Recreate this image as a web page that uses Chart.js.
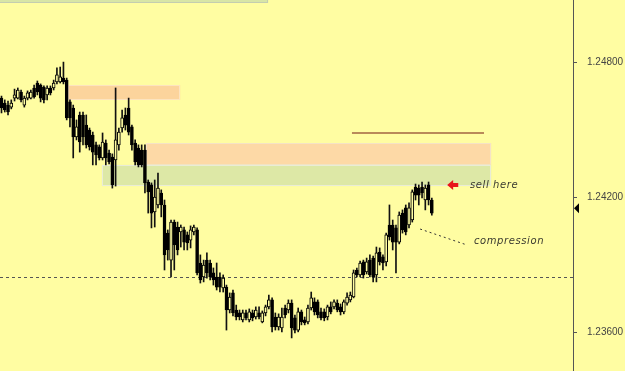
<!DOCTYPE html>
<html><head><meta charset="utf-8">
<script src="https://cdn.jsdelivr.net/npm/chart.js@4/dist/chart.umd.min.js"></script>
<style>html,body{margin:0;padding:0;background:#fffda2;overflow:hidden}#wrap{width:625px;height:371px;position:relative}</style>
</head><body><div id="wrap"><canvas id="c"></canvas></div>
<script>
const opens=[
1.24640,1.24618,1.24609,1.24600,1.24640,1.24640,1.24667,1.24609,1.24640,1.24640,
1.24685,1.24707,1.24698,1.24689,1.24654,1.24685,1.24685,1.24712,1.24712,1.24729,
1.24720,1.24623,1.24596,1.24467,1.24565,1.24565,1.24520,1.24498,1.24476,1.24432,
1.24423,1.24374,1.24440,1.24396,1.24378,1.24365,1.24432,1.24507,1.24565,1.24596,
1.24512,1.24440,1.24418,1.24409,1.24409,
1.24267,1.24254,1.24134,1.24165,1.24218,1.24165,1.24040,1.23920,1.24089,1.24067,
1.24045,1.24054,1.24032,1.24009,1.24045,1.24054,1.23907,1.23845,1.23920,1.23907,
1.23863,1.23845,1.23845,1.23796,1.23800,1.23698,1.23774,1.23698,1.23685,1.23654,
1.23685,1.23654,1.23685,1.23667,1.23685,1.23645,1.23685,1.23712,1.23743,1.23667,
1.23623,1.23618,1.23707,1.23698,1.23729,1.23663,1.23609,1.23690,1.23654,1.23645,
1.23707,1.23734,1.23734,1.23690,1.23690,1.23667,1.23712,1.23712,1.23729,1.23712,
1.23690,1.23729,1.23743,1.23756,1.23876,1.23854,1.23912,1.23867,1.23920,1.23929,
1.23854,1.23956,1.23934,1.23912,1.24076,1.24076,1.24063,1.24000,1.24129,1.24152,
1.24076,1.24098,1.24245,1.24240,1.24245,1.24187,1.24254,1.24187];
const highs=[
1.24649,1.24632,1.24627,1.24632,1.24680,1.24685,1.24676,1.24649,1.24672,1.24676,
1.24698,1.24716,1.24703,1.24694,1.24694,1.24694,1.24720,1.24774,1.24778,1.24800,
1.24729,1.24632,1.24609,1.24543,1.24578,1.24578,1.24565,1.24507,1.24489,1.24445,
1.24432,1.24485,1.24454,1.24409,1.24392,1.24685,1.24507,1.24587,1.24596,1.24640,
1.24520,1.24454,1.24432,1.24432,1.24432,
1.24276,1.24263,1.24276,1.24307,1.24232,1.24187,1.24054,1.24098,1.24098,1.24089,
1.24076,1.24067,1.24045,1.24072,1.24076,1.24063,1.23943,1.23920,1.23952,1.23920,
1.23885,1.23907,1.23863,1.23854,1.23809,1.23774,1.23787,1.23720,1.23698,1.23698,
1.23698,1.23703,1.23698,1.23712,1.23712,1.23694,1.23720,1.23765,1.23752,1.23685,
1.23681,1.23707,1.23720,1.23743,1.23743,1.23676,1.23707,1.23698,1.23667,1.23720,
1.23778,1.23752,1.23743,1.23707,1.23703,1.23720,1.23734,1.23743,1.23743,1.23725,
1.23743,1.23774,1.23778,1.23876,1.23885,1.23916,1.23920,1.23929,1.23943,1.23938,
1.23978,1.23974,1.23943,1.24040,1.24165,1.24098,1.24076,1.24134,1.24143,1.24165,
1.24174,1.24232,1.24258,1.24254,1.24267,1.24254,1.24267,1.24196];
const lows=[
1.24574,1.24578,1.24565,1.24592,1.24627,1.24636,1.24623,1.24600,1.24632,1.24636,
1.24640,1.24654,1.24623,1.24618,1.24632,1.24654,1.24676,1.24703,1.24707,1.24703,
1.24543,1.24512,1.24374,1.24454,1.24400,1.24432,1.24418,1.24409,1.24343,1.24343,
1.24365,1.24365,1.24343,1.24347,1.24240,1.24249,1.24409,1.24489,1.24498,1.24476,
1.24409,1.24343,1.24334,1.24334,1.24218,
1.24129,1.24063,1.24067,1.24152,1.24112,1.23876,1.23920,1.23845,1.23876,1.23943,
1.23978,1.23965,1.23965,1.23974,1.24032,1.23854,1.23818,1.23823,1.23840,1.23832,
1.23809,1.23787,1.23778,1.23778,1.23609,1.23685,1.23672,1.23654,1.23654,1.23645,
1.23654,1.23645,1.23650,1.23658,1.23658,1.23641,1.23672,1.23703,1.23601,1.23609,
1.23609,1.23601,1.23663,1.23685,1.23574,1.23596,1.23601,1.23632,1.23632,1.23636,
1.23698,1.23676,1.23663,1.23654,1.23650,1.23654,1.23681,1.23703,1.23690,1.23676,
1.23681,1.23720,1.23734,1.23752,1.23845,1.23845,1.23840,1.23858,1.23845,1.23823,
1.23823,1.23898,1.23876,1.23894,1.24009,1.23965,1.23863,1.23992,1.24040,1.24032,
1.24063,1.24089,1.24187,1.24165,1.24196,1.24143,1.24165,1.24120];
const closes=[
1.24596,1.24587,1.24578,1.24618,1.24654,1.24676,1.24632,1.24640,1.24663,1.24667,
1.24645,1.24667,1.24640,1.24632,1.24685,1.24663,1.24707,1.24743,1.24734,1.24712,
1.24552,1.24552,1.24467,1.24512,1.24445,1.24467,1.24432,1.24423,1.24400,1.24387,
1.24374,1.24445,1.24374,1.24356,1.24254,1.24454,1.24489,1.24552,1.24520,1.24489,
1.24432,1.24356,1.24343,1.24343,1.24263,
1.24223,1.24129,1.24200,1.24240,1.24165,1.23943,1.23965,1.24089,1.23987,1.23965,
1.24067,1.24000,1.23996,1.24054,1.24067,1.23863,1.23832,1.23898,1.23863,1.23845,
1.23832,1.23800,1.23800,1.23840,1.23698,1.23756,1.23685,1.23667,1.23667,1.23685,
1.23663,1.23690,1.23663,1.23698,1.23667,1.23685,1.23712,1.23743,1.23623,1.23623,
1.23667,1.23667,1.23676,1.23729,1.23618,1.23609,1.23690,1.23645,1.23641,1.23707,
1.23752,1.23690,1.23676,1.23663,1.23663,1.23712,1.23690,1.23734,1.23698,1.23690,
1.23734,1.23756,1.23765,1.23863,1.23854,1.23907,1.23854,1.23912,1.23854,1.23845,
1.23952,1.23912,1.23907,1.24032,1.24023,1.24000,1.24000,1.24120,1.24054,1.24045,
1.24152,1.24223,1.24209,1.24209,1.24218,1.24240,1.24187,1.24129];

const yTicks=[1.23600,1.24200,1.24800];
const priceMin=1.23427, priceMax=1.25076;
const barMin=-0.46, barMax=175.3;
const lastPrice=1.24150;
const refLevel=1.23845;

// zones: [fromBar, toBar, lowPrice, highPrice]
const zoneTop=[-1,81.8,1.25063,1.25100];
const zoneOrange1=[20.4,54.8,1.24632,1.24698];
const zoneOrange2=[44.3,150.2,1.24343,1.24440];
const zoneGreen=[30.8,150.2,1.24249,1.24343];
const brownLine=[107.5,148,1.24485];
const sellArrow=[136.7,140.1,1.24254];
const sellText={bar:143.7,price:1.24254,text:'sell here'};
const comprLine=[128.4,1.24058,142.8,1.23987];
const comprText={bar:144.9,price:1.24005,text:'compression'};

const idx=opens.map((_,i)=>i);
const bodies=idx.map(i=>({x:i,y:[opens[i],closes[i]]}));
const wicks=idx.map(i=>({x:i,y:[lows[i],highs[i]]}));
const BG='#fffda2';
const bodyFill=idx.map(i=>closes[i]>=opens[i]?BG:'#000000');

const annot={
  id:'annot',
  beforeDatasetsDraw(chart){
    const {ctx,chartArea:a,scales:{x,y}}=chart;
    ctx.save();
    ctx.beginPath();ctx.rect(a.left,a.top,a.width,a.height);ctx.clip();
    const zone=(z,fill,stroke)=>{
      const X0=x.getPixelForValue(z[0]),X1=x.getPixelForValue(z[1]);
      const Y0=y.getPixelForValue(z[3]),Y1=y.getPixelForValue(z[2]);
      ctx.fillStyle=fill;ctx.fillRect(X0,Y0,X1-X0,Y1-Y0);
      ctx.strokeStyle=stroke;ctx.lineWidth=1;
      ctx.strokeRect(Math.round(X0)+0.5,Math.round(Y0)+0.5,Math.round(X1-X0)-1,Math.round(Y1-Y0)-1);
    };
    zone(zoneTop,'#d8e5a6','#c4cdb0');
    zone(zoneOrange1,'#fcd49c','#fde4bf');
    zone(zoneOrange2,'#fdd9a6','#f5e3c6');
    zone(zoneGreen,'#dde8a6','#e9ecd6');
    // reference dashed level
    const yl=Math.round(y.getPixelForValue(refLevel))+0.5;
    ctx.strokeStyle='#555';ctx.setLineDash([3,3]);ctx.lineWidth=1;
    ctx.beginPath();ctx.moveTo(a.left,yl);ctx.lineTo(a.right,yl);ctx.stroke();
    ctx.setLineDash([]);
    // brown line
    const by=y.getPixelForValue(brownLine[2]);
    ctx.strokeStyle='#b98a5a';ctx.lineWidth=2;
    ctx.beginPath();ctx.moveTo(x.getPixelForValue(brownLine[0]),by);ctx.lineTo(x.getPixelForValue(brownLine[1]),by);ctx.stroke();
    ctx.restore();
  },
  afterDatasetsDraw(chart){
    const {ctx,chartArea:a,scales:{x,y}}=chart;
    ctx.save();
    // red arrow
    const ax0=x.getPixelForValue(sellArrow[0]),ax1=x.getPixelForValue(sellArrow[1]),ay=y.getPixelForValue(sellArrow[2]);
    ctx.fillStyle='#e8141c';
    ctx.beginPath();
    ctx.moveTo(ax0,ay);ctx.lineTo(ax0+6,ay-5);ctx.lineTo(ax0+6,ay-2);ctx.lineTo(ax1,ay-2);
    ctx.lineTo(ax1,ay+2);ctx.lineTo(ax0+6,ay+2);ctx.lineTo(ax0+6,ay+5);ctx.closePath();ctx.fill();
    // texts
    ctx.fillStyle='#3a3a30';
    ctx.font='italic 10px "DejaVu Sans"';
    ctx.textBaseline='middle';ctx.textAlign='left';
    try{ctx.letterSpacing='0.6px';}catch(e){}
    ctx.fillText(sellText.text,x.getPixelForValue(sellText.bar),y.getPixelForValue(sellText.price));
    ctx.fillText(comprText.text,x.getPixelForValue(comprText.bar),y.getPixelForValue(comprText.price));
    // dotted line
    ctx.strokeStyle='#333';ctx.lineWidth=1;ctx.setLineDash([2,3]);
    ctx.beginPath();
    ctx.moveTo(x.getPixelForValue(comprLine[0]),y.getPixelForValue(comprLine[1]));
    ctx.lineTo(x.getPixelForValue(comprLine[2]),y.getPixelForValue(comprLine[3]));
    ctx.stroke();ctx.setLineDash([]);
    // current price marker on the axis
    const py=y.getPixelForValue(lastPrice);
    ctx.fillStyle='#000';
    ctx.beginPath();ctx.moveTo(a.right+1,py);ctx.lineTo(a.right+6,py-5);ctx.lineTo(a.right+6,py+5);ctx.closePath();ctx.fill();
    ctx.restore();
  }
};

new Chart(document.getElementById('c'),{
  type:'bar',
  data:{datasets:[
    {label:'body',data:bodies,backgroundColor:bodyFill,borderColor:'#000',borderWidth:1,borderSkipped:false,
     barThickness:3,minBarLength:1,grouped:false,order:0},
    {label:'wick',data:wicks,backgroundColor:'#111',borderWidth:0,barThickness:1,grouped:false,order:1}
  ]},
  options:{
    responsive:true,maintainAspectRatio:false,animation:false,
    layout:{padding:0},
    plugins:{legend:{display:false},tooltip:{enabled:false}},
    scales:{
      x:{type:'linear',min:barMin,max:barMax,offset:false,display:false},
      y:{position:'right',min:priceMin,max:priceMax,
        afterBuildTicks:s=>{s.ticks=yTicks.map(v=>({value:v}));},
        afterFit:s=>{s.width=52;s.paddingTop=0;s.paddingBottom=0;},
        ticks:{callback:v=>Number(v).toFixed(5),color:'#444',font:{family:'Liberation Sans',size:10},padding:10},
        grid:{drawOnChartArea:false,tickLength:4,color:'#555'},
        border:{display:true,color:'#555',width:1}
      }
    }
  },
  plugins:[annot]
});
</script></body></html>
